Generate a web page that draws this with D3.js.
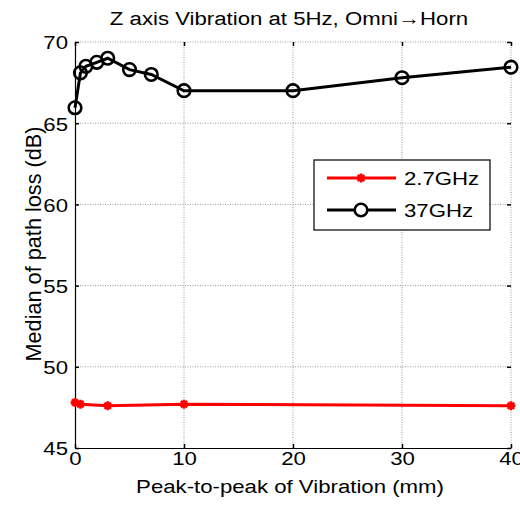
<!DOCTYPE html>
<html>
<head>
<meta charset="utf-8">
<script src="https://cdn.jsdelivr.net/npm/d3@7"></script>
<style>
  html, body { margin: 0; padding: 0; background: #fff; }
  svg { display: block; }
  text { font-family: Arial, "Liberation Sans", Helvetica, sans-serif; fill: #000; }
</style>
</head>
<body>
<svg id="chart" width="520" height="510"></svg>
<script>
// ---- data ----
const titleText = "Z axis Vibration at 5Hz, Omni\u2192Horn";
const xLabel = "Peak-to-peak of Vibration (mm)";
const yLabel = "Median of path loss (dB)";
const xTicks = [0, 10, 20, 30, 40];
const yTicks = [45, 50, 55, 60, 65, 70];
const seriesNames = ["2.7GHz", "37GHz"];
const x27 = [0, 0.5, 3, 10, 40];
const y27 = [47.8, 47.7, 47.6, 47.7, 47.6];
const x37 = [0, 0.5, 1, 2, 3, 5, 7, 10, 20, 30, 40];
const y37 = [65.95, 68.1, 68.5, 68.75, 69.0, 68.3, 68.0, 67.0, 67.0, 67.8, 68.45];

// ---- layout ----
const svg = d3.select("#chart");
const L = 75, R = 511, T = 42, B = 448;
const x = d3.scaleLinear().domain([0, 40]).range([L, R]);
const y = d3.scaleLinear().domain([45, 70]).range([B, T]);
const fs = 22.2;
const sy = 0.86; // vertical squish of horizontal texts

// grid
const g = svg.append("g");
g.selectAll("line.gx").data(xTicks.filter(d => d > 0)).enter().append("line")
  .attr("x1", d => x(d)).attr("x2", d => x(d)).attr("y1", T).attr("y2", B)
  .attr("stroke", "#999").attr("stroke-width", 1).attr("stroke-dasharray", "1,1.5");
g.selectAll("line.gy").data(yTicks.filter(d => d > 45)).enter().append("line")
  .attr("y1", d => y(d)).attr("y2", d => y(d)).attr("x1", L).attr("x2", R)
  .attr("stroke", "#999").attr("stroke-width", 1).attr("stroke-dasharray", "1,1.5");

// axes via d3 axis (inner ticks)
const xAxis = svg.append("g").attr("transform", `translate(0,${B})`)
  .call(d3.axisBottom(x).tickValues(xTicks).tickSize(-4).tickSizeOuter(0));
const yAxis = svg.append("g").attr("transform", `translate(${L},0)`)
  .call(d3.axisLeft(y).tickValues(yTicks).tickSize(-4).tickSizeOuter(0));
const xTop = svg.append("g").attr("transform", `translate(0,${T})`)
  .call(d3.axisTop(x).tickValues(xTicks).tickSize(-4).tickFormat("").tickSizeOuter(0));
const yRight = svg.append("g").attr("transform", `translate(${R},0)`)
  .call(d3.axisRight(y).tickValues(yTicks).tickSize(-4).tickFormat("").tickSizeOuter(0));
[xTop, yRight].forEach(a => a.select(".domain").remove());
[xAxis, yAxis, xTop, yRight].forEach(a => {
  a.selectAll(".tick line").attr("stroke", "#000").attr("stroke-width", 1.5);
  a.select(".domain").attr("stroke", "#000").attr("stroke-width", 1.2);
  a.selectAll("text").style("font-size", fs + "px").style("font-family", "Arial, 'Liberation Sans', sans-serif").attr("fill", "#000");
});
xAxis.selectAll("text").attr("y", 0).attr("dy", 0).attr("transform", `translate(0,17) scale(1,${sy})`);
yAxis.selectAll("text").attr("x", 0).attr("dy", "0.36em").attr("transform", `translate(-7,0) scale(1,${sy})`);

// lines
const line = d3.line().x(d => x(d[0])).y(d => y(d[1]));
const d27 = x27.map((v, i) => [v, y27[i]]);
const d37 = x37.map((v, i) => [v, y37[i]]);

svg.append("path").datum(d27).attr("d", line)
  .attr("fill", "none").attr("stroke", "#ff0000").attr("stroke-width", 3);
svg.append("path").datum(d37).attr("d", line)
  .attr("fill", "none").attr("stroke", "#000").attr("stroke-width", 3);

function star(sel, s) {
  const p = `M${-s},0L${s},0M0,${-s}L0,${s}M${-s*0.7},${-s*0.7}L${s*0.7},${s*0.7}M${-s*0.7},${s*0.7}L${s*0.7},${-s*0.7}`;
  sel.append("path").attr("d", p).attr("stroke", "#ff0000").attr("stroke-width", 2.5).attr("fill", "none");
}
svg.selectAll("g.m27").data(d27).enter().append("g")
  .attr("transform", d => `translate(${x(d[0])},${y(d[1])})`)
  .each(function () { star(d3.select(this), 4.5); });
svg.selectAll("circle.m37").data(d37).enter().append("circle")
  .attr("cx", d => x(d[0])).attr("cy", d => y(d[1])).attr("r", 6.3)
  .attr("fill", "none").attr("stroke", "#000").attr("stroke-width", 2.6);

// title & labels
svg.append("text").attr("transform", `translate(289,25) scale(1,${sy})`).attr("text-anchor", "middle")
  .style("font-size", fs + "px").text(titleText);
svg.append("text").attr("transform", `translate(290,493) scale(1,${sy})`).attr("text-anchor", "middle")
  .style("font-size", fs + "px").text(xLabel);
svg.append("text").attr("transform", `translate(41,244) rotate(-90)`).attr("text-anchor", "middle")
  .style("font-size", (fs - 0.5) + "px").text(yLabel);

// legend
const lg = svg.append("g");
lg.append("rect").attr("x", 314).attr("y", 160).attr("width", 176).attr("height", 70)
  .attr("fill", "#fff").attr("stroke", "#000").attr("stroke-width", 1.2);
const rows = [178, 210];
// 2.7GHz
lg.append("line").attr("x1", 327).attr("x2", 396).attr("y1", rows[0]).attr("y2", rows[0])
  .attr("stroke", "#ff0000").attr("stroke-width", 3);
star(lg.append("g").attr("transform", `translate(361,${rows[0]})`), 4.5);
// 37GHz
lg.append("line").attr("x1", 327).attr("x2", 396).attr("y1", rows[1]).attr("y2", rows[1])
  .attr("stroke", "#000").attr("stroke-width", 3);
lg.append("circle").attr("cx", 361).attr("cy", rows[1]).attr("r", 6.3)
  .attr("fill", "#fff").attr("stroke", "#000").attr("stroke-width", 2.6);
lg.selectAll("text.lt").data(seriesNames).enter().append("text")
  .attr("transform", (d, i) => `translate(404,${rows[i] + 7}) scale(1,${sy})`)
  .style("font-size", fs + "px").text(d => d);
</script>
</body>
</html>
